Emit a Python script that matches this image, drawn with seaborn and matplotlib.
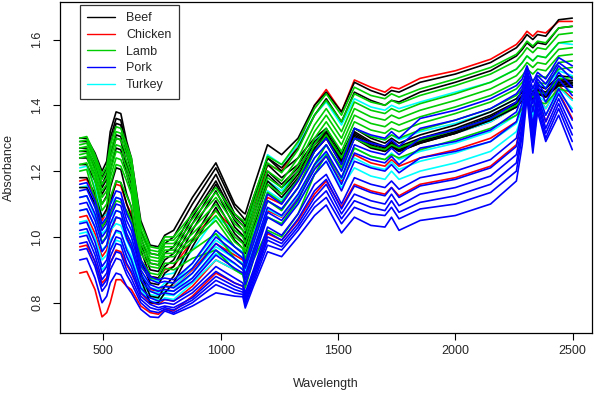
"""
Meat NIR spectra by type (matplot-style)
"""
import pandas as pd
import matplotlib
matplotlib.use('Agg')
import matplotlib.pyplot as plt
import seaborn as sns
from matplotlib.lines import Line2D

wavelength = [400, 430, 465, 495, 515, 530, 555, 575, 600, 620, 660, 700, 735, 762, 800,
              880, 980, 1060, 1095, 1105, 1140,
              1200, 1260, 1330, 1400, 1450, 1515, 1570, 1640, 1700, 1728, 1760,
              1850, 2000, 2150, 2260, 2285, 2305, 2330, 2350, 2385, 2440, 2498]

beef = [
    [1.30, 1.30, 1.255, 1.20, 1.23, 1.32, 1.38, 1.375, 1.29, 1.24, 1.05, 0.975, 0.97, 1.005, 1.02,
     1.12, 1.225, 1.10, 1.075, 1.07, 1.15,
     1.28, 1.25, 1.30, 1.40, 1.44, 1.38, 1.47, 1.445, 1.43, 1.445, 1.44,
     1.47, 1.495, 1.53, 1.575, 1.595, 1.615, 1.60, 1.615, 1.61, 1.66, 1.665],
    [1.27, 1.27, 1.22, 1.16, 1.19, 1.28, 1.345, 1.34, 1.25, 1.20, 1.00, 0.92, 0.915, 0.95, 0.97,
     1.075, 1.19, 1.07, 1.045, 1.035, 1.10,
     1.22, 1.18, 1.22, 1.29, 1.32, 1.24, 1.32, 1.29, 1.275, 1.29, 1.275,
     1.30, 1.33, 1.37, 1.41, 1.43, 1.45, 1.43, 1.45, 1.44, 1.48, 1.475],
    [1.22, 1.22, 1.17, 1.10, 1.125, 1.20, 1.27, 1.265, 1.19, 1.14, 0.93, 0.86, 0.855, 0.89, 0.91,
     1.02, 1.14, 1.03, 1.005, 0.99, 1.06,
     1.19, 1.15, 1.20, 1.27, 1.31, 1.23, 1.31, 1.28, 1.265, 1.28, 1.265,
     1.29, 1.32, 1.36, 1.40, 1.42, 1.44, 1.42, 1.44, 1.43, 1.47, 1.465],
    [1.15, 1.15, 1.10, 1.03, 1.05, 1.10, 1.17, 1.165, 1.10, 1.06, 0.87, 0.80, 0.80, 0.83, 0.86,
     0.97, 1.09, 0.99, 0.965, 0.95, 1.03,
     1.16, 1.12, 1.18, 1.26, 1.30, 1.22, 1.30, 1.27, 1.26, 1.275, 1.26,
     1.285, 1.315, 1.355, 1.395, 1.415, 1.435, 1.415, 1.435, 1.425, 1.465, 1.46],
    [1.26, 1.26, 1.21, 1.15, 1.175, 1.25, 1.31, 1.305, 1.22, 1.18, 0.98, 0.90, 0.895, 0.93, 0.95,
     1.06, 1.17, 1.06, 1.035, 1.03, 1.11,
     1.24, 1.21, 1.27, 1.37, 1.42, 1.35, 1.44, 1.415, 1.40, 1.415, 1.41,
     1.44, 1.47, 1.505, 1.55, 1.57, 1.59, 1.575, 1.59, 1.585, 1.635, 1.64],
    [1.29, 1.29, 1.24, 1.18, 1.21, 1.30, 1.36, 1.355, 1.27, 1.22, 1.02, 0.95, 0.945, 0.98, 1.00,
     1.10, 1.21, 1.09, 1.06, 1.05, 1.12,
     1.24, 1.20, 1.24, 1.30, 1.33, 1.25, 1.33, 1.30, 1.285, 1.30, 1.285,
     1.31, 1.34, 1.38, 1.42, 1.44, 1.46, 1.44, 1.46, 1.45, 1.49, 1.485],
    [1.24, 1.24, 1.19, 1.13, 1.155, 1.24, 1.30, 1.295, 1.21, 1.16, 0.96, 0.88, 0.875, 0.91, 0.93,
     1.04, 1.16, 1.05, 1.02, 1.01, 1.08,
     1.20, 1.16, 1.21, 1.28, 1.315, 1.235, 1.315, 1.285, 1.27, 1.285, 1.27,
     1.295, 1.325, 1.365, 1.405, 1.425, 1.445, 1.425, 1.445, 1.435, 1.475, 1.47],
    [1.18, 1.18, 1.13, 1.06, 1.085, 1.15, 1.21, 1.205, 1.13, 1.09, 0.89, 0.82, 0.815, 0.85, 0.88,
     0.99, 1.11, 1.01, 0.985, 0.97, 1.04,
     1.17, 1.13, 1.19, 1.265, 1.305, 1.225, 1.305, 1.275, 1.26, 1.275, 1.26,
     1.285, 1.315, 1.355, 1.395, 1.415, 1.435, 1.415, 1.435, 1.425, 1.46, 1.455],
]

chicken = [
    [1.17, 1.175, 1.12, 1.05, 1.075, 1.12, 1.16, 1.155, 1.10, 1.07, 0.93, 0.88, 0.875, 0.90, 0.91,
     0.99, 1.08, 1.02, 1.00, 0.99, 1.08,
     1.22, 1.20, 1.28, 1.40, 1.448, 1.38, 1.477, 1.455, 1.44, 1.455, 1.45,
     1.482, 1.505, 1.54, 1.585, 1.605, 1.625, 1.61, 1.625, 1.62, 1.655, 1.655],
    [0.89, 0.895, 0.84, 0.757, 0.77, 0.80, 0.87, 0.87, 0.85, 0.84, 0.79, 0.77, 0.765, 0.78, 0.775,
     0.82, 0.89, 0.86, 0.85, 0.82, 0.89,
     1.01, 0.99, 1.05, 1.13, 1.17, 1.09, 1.16, 1.14, 1.13, 1.15, 1.125,
     1.16, 1.18, 1.215, 1.28, 1.36, 1.46, 1.32, 1.43, 1.35, 1.44, 1.36],
    [0.97, 0.975, 0.925, 0.86, 0.875, 0.92, 0.96, 0.955, 0.915, 0.89, 0.83, 0.80, 0.795, 0.81, 0.805,
     0.85, 0.93, 0.90, 0.89, 0.865, 0.95,
     1.08, 1.06, 1.12, 1.21, 1.25, 1.17, 1.25, 1.225, 1.215, 1.235, 1.215,
     1.24, 1.265, 1.30, 1.35, 1.39, 1.45, 1.37, 1.43, 1.39, 1.46, 1.42],
    [1.06, 1.065, 1.01, 0.94, 0.96, 1.01, 1.06, 1.055, 1.00, 0.97, 0.88, 0.84, 0.835, 0.85, 0.85,
     0.90, 0.98, 0.945, 0.93, 0.91, 0.99,
     1.12, 1.10, 1.17, 1.26, 1.30, 1.22, 1.30, 1.275, 1.265, 1.28, 1.265,
     1.29, 1.315, 1.35, 1.395, 1.42, 1.45, 1.415, 1.445, 1.43, 1.48, 1.46],
]

lamb = [
    [1.30, 1.305, 1.25, 1.19, 1.215, 1.28, 1.335, 1.33, 1.28, 1.24, 1.04, 0.97, 0.965, 1.00, 1.00,
     1.07, 1.15, 1.07, 1.05, 1.04, 1.12,
     1.245, 1.22, 1.29, 1.39, 1.435, 1.37, 1.455, 1.43, 1.42, 1.435, 1.425,
     1.45, 1.48, 1.515, 1.555, 1.575, 1.595, 1.58, 1.595, 1.59, 1.635, 1.64],
    [1.28, 1.285, 1.23, 1.16, 1.18, 1.24, 1.30, 1.295, 1.25, 1.21, 1.01, 0.95, 0.945, 0.98, 0.98,
     1.04, 1.12, 1.04, 1.02, 1.00, 1.08,
     1.20, 1.17, 1.24, 1.34, 1.39, 1.32, 1.41, 1.385, 1.375, 1.39, 1.38,
     1.405, 1.435, 1.47, 1.51, 1.53, 1.55, 1.535, 1.55, 1.545, 1.59, 1.595],
    [1.26, 1.265, 1.20, 1.12, 1.14, 1.20, 1.26, 1.255, 1.21, 1.17, 0.98, 0.93, 0.925, 0.96, 0.96,
     1.01, 1.08, 1.00, 0.98, 0.955, 1.04,
     1.16, 1.13, 1.20, 1.30, 1.35, 1.28, 1.37, 1.345, 1.335, 1.35, 1.34,
     1.365, 1.395, 1.43, 1.47, 1.49, 1.51, 1.495, 1.51, 1.505, 1.55, 1.555],
    [1.24, 1.245, 1.17, 1.08, 1.10, 1.16, 1.22, 1.215, 1.17, 1.13, 0.95, 0.91, 0.905, 0.94, 0.94,
     0.985, 1.05, 0.97, 0.95, 0.91, 1.00,
     1.11, 1.08, 1.15, 1.26, 1.31, 1.24, 1.33, 1.305, 1.295, 1.31, 1.30,
     1.325, 1.355, 1.39, 1.43, 1.45, 1.47, 1.455, 1.47, 1.465, 1.51, 1.515],
    [1.22, 1.225, 1.14, 1.03, 1.055, 1.12, 1.17, 1.165, 1.125, 1.09, 0.93, 0.89, 0.885, 0.92, 0.92,
     0.96, 1.01, 0.935, 0.915, 0.87, 0.96,
     1.06, 1.04, 1.11, 1.22, 1.28, 1.21, 1.30, 1.275, 1.265, 1.28, 1.27,
     1.295, 1.325, 1.36, 1.40, 1.42, 1.44, 1.425, 1.44, 1.435, 1.48, 1.485],
    [1.20, 1.205, 1.11, 0.98, 1.005, 1.07, 1.11, 1.105, 1.08, 1.05, 0.91, 0.875, 0.87, 0.905, 0.90,
     0.935, 0.96, 0.90, 0.885, 0.845, 0.93,
     1.02, 1.00, 1.07, 1.19, 1.25, 1.18, 1.27, 1.245, 1.235, 1.25, 1.24,
     1.265, 1.295, 1.33, 1.37, 1.39, 1.41, 1.395, 1.41, 1.405, 1.45, 1.44],
    [1.29, 1.295, 1.24, 1.175, 1.20, 1.26, 1.32, 1.315, 1.265, 1.225, 1.025, 0.96, 0.955, 0.99, 0.99,
     1.055, 1.135, 1.055, 1.035, 1.02, 1.10,
     1.225, 1.195, 1.265, 1.37, 1.415, 1.35, 1.435, 1.41, 1.40, 1.415, 1.405,
     1.43, 1.46, 1.495, 1.535, 1.555, 1.575, 1.56, 1.575, 1.57, 1.615, 1.62],
    [1.25, 1.255, 1.185, 1.10, 1.12, 1.18, 1.24, 1.235, 1.19, 1.15, 0.965, 0.92, 0.915, 0.95, 0.95,
     0.995, 1.065, 0.985, 0.965, 0.93, 1.02,
     1.135, 1.105, 1.175, 1.28, 1.33, 1.26, 1.35, 1.325, 1.315, 1.33, 1.32,
     1.345, 1.375, 1.41, 1.45, 1.47, 1.49, 1.475, 1.49, 1.485, 1.53, 1.535],
    [1.27, 1.275, 1.215, 1.14, 1.16, 1.22, 1.28, 1.275, 1.23, 1.19, 0.995, 0.94, 0.935, 0.97, 0.97,
     1.025, 1.10, 1.02, 1.00, 0.98, 1.06,
     1.18, 1.15, 1.22, 1.32, 1.37, 1.30, 1.39, 1.365, 1.355, 1.37, 1.36,
     1.385, 1.415, 1.45, 1.49, 1.51, 1.53, 1.515, 1.53, 1.525, 1.57, 1.575],
]

pork = [
    [1.16, 1.165, 1.11, 1.04, 1.06, 1.10, 1.14, 1.135, 1.07, 1.04, 0.93, 0.88, 0.87, 0.875, 0.87,
     0.92, 1.02, 0.97, 0.95, 0.92, 1.00,
     1.13, 1.10, 1.17, 1.26, 1.30, 1.22, 1.33, 1.31, 1.30, 1.32, 1.30,
     1.36, 1.385, 1.42, 1.46, 1.48, 1.52, 1.47, 1.50, 1.48, 1.545, 1.52],
    [1.12, 1.125, 1.07, 1.00, 1.02, 1.06, 1.10, 1.095, 1.03, 1.00, 0.90, 0.855, 0.845, 0.85, 0.845,
     0.89, 0.98, 0.935, 0.915, 0.885, 0.96,
     1.09, 1.065, 1.13, 1.22, 1.26, 1.18, 1.28, 1.26, 1.25, 1.27, 1.25,
     1.30, 1.325, 1.36, 1.41, 1.45, 1.50, 1.43, 1.48, 1.45, 1.52, 1.48],
    [1.08, 1.085, 1.03, 0.955, 0.975, 1.02, 1.06, 1.055, 0.995, 0.965, 0.87, 0.835, 0.825, 0.83, 0.825,
     0.865, 0.945, 0.905, 0.89, 0.855, 0.93,
     1.06, 1.035, 1.10, 1.19, 1.23, 1.14, 1.23, 1.21, 1.20, 1.22, 1.195,
     1.24, 1.26, 1.29, 1.35, 1.41, 1.485, 1.38, 1.46, 1.41, 1.48, 1.43],
    [1.04, 1.045, 0.985, 0.91, 0.93, 0.98, 1.02, 1.015, 0.96, 0.93, 0.845, 0.815, 0.805, 0.81, 0.805,
     0.84, 0.91, 0.875, 0.86, 0.83, 0.90,
     1.03, 1.005, 1.07, 1.16, 1.19, 1.10, 1.18, 1.16, 1.15, 1.17, 1.145,
     1.18, 1.20, 1.235, 1.30, 1.38, 1.47, 1.34, 1.44, 1.37, 1.45, 1.38],
    [1.00, 1.005, 0.945, 0.87, 0.89, 0.94, 0.98, 0.975, 0.92, 0.895, 0.82, 0.795, 0.785, 0.79, 0.785,
     0.815, 0.88, 0.85, 0.84, 0.81, 0.88,
     1.00, 0.98, 1.04, 1.12, 1.16, 1.07, 1.13, 1.11, 1.10, 1.13, 1.095,
     1.13, 1.15, 1.185, 1.25, 1.34, 1.455, 1.30, 1.42, 1.33, 1.42, 1.33],
    [0.96, 0.965, 0.91, 0.835, 0.855, 0.90, 0.935, 0.93, 0.885, 0.86, 0.80, 0.775, 0.77, 0.78, 0.77,
     0.80, 0.855, 0.83, 0.825, 0.795, 0.86,
     0.975, 0.96, 1.02, 1.09, 1.12, 1.04, 1.09, 1.07, 1.065, 1.09, 1.055,
     1.085, 1.10, 1.135, 1.20, 1.31, 1.44, 1.27, 1.395, 1.30, 1.39, 1.29],
    [0.93, 0.935, 0.875, 0.80, 0.82, 0.86, 0.89, 0.885, 0.85, 0.83, 0.78, 0.757, 0.755, 0.775, 0.765,
     0.79, 0.83, 0.82, 0.818, 0.784, 0.85,
     0.955, 0.94, 1.00, 1.065, 1.097, 1.012, 1.06, 1.035, 1.03, 1.06, 1.02,
     1.05, 1.065, 1.10, 1.17, 1.28, 1.425, 1.255, 1.38, 1.29, 1.37, 1.265],
    [1.14, 1.145, 1.09, 1.02, 1.04, 1.08, 1.12, 1.115, 1.05, 1.02, 0.915, 0.87, 0.86, 0.865, 0.86,
     0.905, 1.00, 0.955, 0.935, 0.905, 0.98,
     1.11, 1.085, 1.15, 1.24, 1.28, 1.20, 1.30, 1.285, 1.275, 1.295, 1.275,
     1.33, 1.355, 1.39, 1.435, 1.46, 1.51, 1.45, 1.49, 1.465, 1.53, 1.50],
    [1.10, 1.105, 1.05, 0.98, 1.00, 1.04, 1.08, 1.075, 1.01, 0.98, 0.885, 0.845, 0.835, 0.84, 0.835,
     0.875, 0.96, 0.92, 0.90, 0.87, 0.945,
     1.075, 1.05, 1.115, 1.205, 1.245, 1.16, 1.255, 1.235, 1.225, 1.245, 1.22,
     1.27, 1.29, 1.325, 1.38, 1.43, 1.49, 1.405, 1.47, 1.43, 1.50, 1.455],
    [1.02, 1.025, 0.965, 0.89, 0.91, 0.96, 1.00, 0.995, 0.94, 0.91, 0.83, 0.805, 0.795, 0.80, 0.795,
     0.83, 0.895, 0.86, 0.85, 0.82, 0.89,
     1.015, 0.99, 1.055, 1.14, 1.175, 1.085, 1.155, 1.135, 1.125, 1.15, 1.12,
     1.155, 1.175, 1.21, 1.275, 1.36, 1.46, 1.32, 1.43, 1.35, 1.435, 1.355],
    [0.98, 0.985, 0.925, 0.85, 0.87, 0.92, 0.955, 0.95, 0.90, 0.875, 0.81, 0.785, 0.778, 0.785, 0.778,
     0.808, 0.868, 0.84, 0.832, 0.802, 0.87,
     0.99, 0.97, 1.03, 1.105, 1.14, 1.055, 1.11, 1.09, 1.08, 1.11, 1.075,
     1.105, 1.125, 1.16, 1.225, 1.325, 1.45, 1.285, 1.41, 1.315, 1.405, 1.31],
]

turkey = [
    [1.21, 1.215, 1.15, 1.06, 1.07, 1.10, 1.12, 1.115, 1.07, 1.04, 0.92, 0.87, 0.865, 0.885, 0.89,
     0.96, 1.06, 1.02, 1.00, 0.99, 1.10,
     1.25, 1.22, 1.28, 1.37, 1.41, 1.34, 1.42, 1.395, 1.385, 1.40, 1.39,
     1.41, 1.44, 1.47, 1.51, 1.53, 1.55, 1.535, 1.55, 1.545, 1.59, 1.585],
    [1.15, 1.155, 1.09, 1.01, 1.025, 1.06, 1.08, 1.075, 1.03, 1.00, 0.89, 0.845, 0.84, 0.86, 0.86,
     0.92, 1.01, 0.97, 0.955, 0.94, 1.03,
     1.17, 1.14, 1.20, 1.29, 1.33, 1.25, 1.33, 1.305, 1.295, 1.31, 1.295,
     1.32, 1.345, 1.38, 1.42, 1.44, 1.47, 1.445, 1.465, 1.455, 1.505, 1.49],
    [1.08, 1.085, 1.03, 0.96, 0.975, 1.02, 1.04, 1.035, 0.99, 0.96, 0.865, 0.825, 0.82, 0.835, 0.835,
     0.89, 0.97, 0.935, 0.92, 0.895, 0.98,
     1.11, 1.085, 1.15, 1.24, 1.28, 1.20, 1.27, 1.245, 1.235, 1.255, 1.235,
     1.26, 1.285, 1.32, 1.37, 1.40, 1.44, 1.39, 1.43, 1.41, 1.47, 1.44],
    [1.01, 1.015, 0.965, 0.90, 0.915, 0.96, 0.99, 0.985, 0.945, 0.92, 0.84, 0.805, 0.80, 0.815, 0.81,
     0.86, 0.93, 0.90, 0.885, 0.86, 0.94,
     1.06, 1.04, 1.10, 1.19, 1.23, 1.15, 1.21, 1.185, 1.175, 1.20, 1.175,
     1.20, 1.225, 1.26, 1.32, 1.37, 1.45, 1.35, 1.42, 1.37, 1.44, 1.39],
    [1.12, 1.125, 1.06, 0.985, 1.00, 1.04, 1.06, 1.055, 1.01, 0.98, 0.878, 0.835, 0.83, 0.848, 0.848,
     0.905, 0.99, 0.952, 0.938, 0.918, 1.005,
     1.14, 1.112, 1.175, 1.265, 1.305, 1.225, 1.30, 1.275, 1.265, 1.283, 1.265,
     1.29, 1.315, 1.35, 1.395, 1.42, 1.455, 1.418, 1.448, 1.433, 1.488, 1.465],
    [1.045, 1.05, 0.998, 0.93, 0.945, 0.99, 1.015, 1.01, 0.968, 0.94, 0.852, 0.815, 0.81, 0.825, 0.822,
     0.875, 0.95, 0.918, 0.902, 0.878, 0.96,
     1.085, 1.062, 1.125, 1.215, 1.255, 1.175, 1.24, 1.215, 1.205, 1.228, 1.205,
     1.23, 1.255, 1.29, 1.345, 1.385, 1.445, 1.37, 1.425, 1.39, 1.455, 1.415],
]

meat_types = ['Beef', 'Chicken', 'Lamb', 'Pork', 'Turkey']
meat_colors = ['black', 'red', '#00CD00', 'blue', 'cyan']
draw_order = ['Chicken', 'Turkey', 'Beef', 'Lamb', 'Pork']


def build_frame():
    rows = []
    spectra = {'Beef': beef, 'Chicken': chicken, 'Lamb': lamb,
               'Pork': pork, 'Turkey': turkey}
    for meat, curves in spectra.items():
        for i, curve in enumerate(curves):
            assert len(curve) == len(wavelength), (meat, i, len(curve))
            for w, a in zip(wavelength, curve):
                rows.append({'Wavelength': w, 'Absorbance': a,
                             'Meat': meat, 'Sample': f'{meat}_{i}'})
    return pd.DataFrame(rows)


def main():
    df = build_frame()
    sns.set_style('white')
    plt.rcParams['font.family'] = ['Liberation Sans', 'DejaVu Sans']

    fig = plt.figure(figsize=(5.94, 3.94), dpi=100)
    ax = fig.add_axes([60 / 594, 1 - 333 / 394, 532 / 594, 331 / 394])

    palette = dict(zip(meat_types, meat_colors))
    sns.lineplot(data=df, x='Wavelength', y='Absorbance', hue='Meat',
                 hue_order=draw_order, units='Sample', estimator=None,
                 palette=palette, linewidth=1.2, legend=False, ax=ax)

    ax.set_xlim(316, 2582)
    ax.set_ylim(0.708, 1.714)
    ax.set_xticks([500, 1000, 1500, 2000, 2500])
    ax.set_yticks([0.8, 1.0, 1.2, 1.4, 1.6])
    ax.set_yticklabels(['0.8', '1.0', '1.2', '1.4', '1.6'],
                       rotation=90, va='center')
    ax.tick_params(axis='both', direction='out', length=5, width=0.8,
                   labelsize=9, color='black', pad=4,
                   bottom=True, left=True)
    ax.tick_params(axis='y', pad=7)
    ax.set_xlabel('Wavelength', fontsize=9, labelpad=15)
    ax.set_ylabel('Absorbance', fontsize=9, labelpad=12)
    for sp in ax.spines.values():
        sp.set_color('black')
        sp.set_linewidth(0.9)
        sp.set_visible(True)

    handles = [Line2D([0], [0], color=c, lw=1) for c in meat_colors]
    leg = ax.legend(handles, meat_types, loc='upper left',
                    bbox_to_anchor=(400, 1.706), bbox_transform=ax.transData,
                    fontsize=9, frameon=True, fancybox=False,
                    handlelength=2.2, handletextpad=0.9, labelspacing=0.38,
                    borderpad=0.6, borderaxespad=0)
    leg.get_frame().set_edgecolor('black')
    leg.get_frame().set_linewidth(0.9)

    fig.savefig('out.png', dpi=100)
    plt.close(fig)


if __name__ == '__main__':
    main()
